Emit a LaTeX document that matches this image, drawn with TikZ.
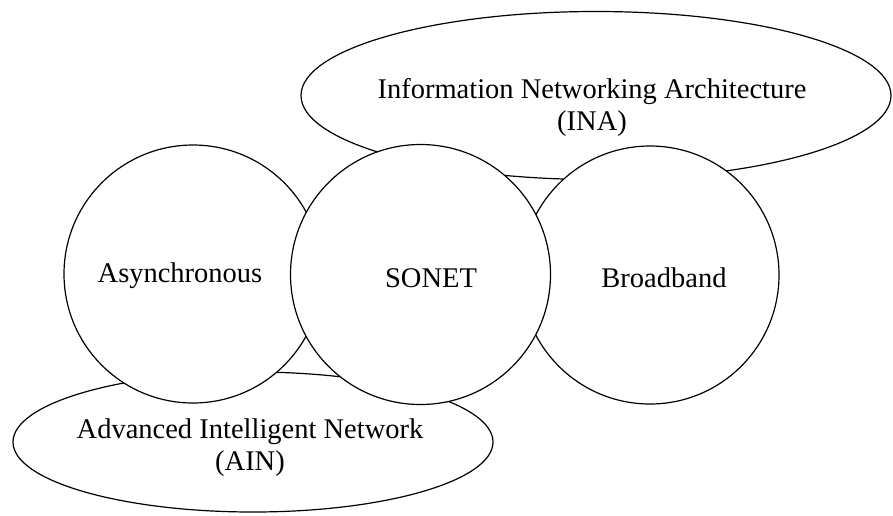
\documentclass[tikz,border=0pt]{standalone}
\usepackage{fontspec}
\setmainfont{Liberation Serif}
\usetikzlibrary{shapes.geometric}
\tikzset{
  outline/.style={draw=black, line width=1.2pt, fill=white, inner sep=0pt},
  area/.style={outline, ellipse},
  topic/.style={outline, circle},
  caption/.style={anchor=base, inner sep=0pt, font=\fontsize{28.5}{32}\selectfont}
}
\begin{document}
\begin{tikzpicture}[x=1pt, y=-1pt]
  \useasboundingbox (0,0) rectangle (893,515);
  % the two wide areas, underneath
  \node[area, minimum width=590pt, minimum height=168pt] (ina) at (596,95.5) {};
  \node[area, minimum width=480pt, minimum height=140pt] (ain) at (253,442) {};
  % the three technologies, SONET on top
  \node[topic, minimum size=258pt] (async) at (193,274) {};
  \node[topic, minimum size=258pt] (broad) at (650,275) {};
  \node[topic, minimum size=260pt] (sonet) at (420.5,274.5) {};
  % labels
  \node[caption] (inaA) at (592,98) {Information Networking Architecture};
  \node[caption] (inaB) at (592,130) {(INA)};
  \node[caption] (ainA) at (250,438) {Advanced Intelligent Network};
  \node[caption] (ainB) at (250,470) {(AIN)};
  \node[caption] (asyncT) at (180,282.5) {Asynchronous};
  \node[caption] (sonetT) at (431,287) {SONET};
  \node[caption] (broadT) at (664,287) {Broadband};
\end{tikzpicture}
\end{document}
